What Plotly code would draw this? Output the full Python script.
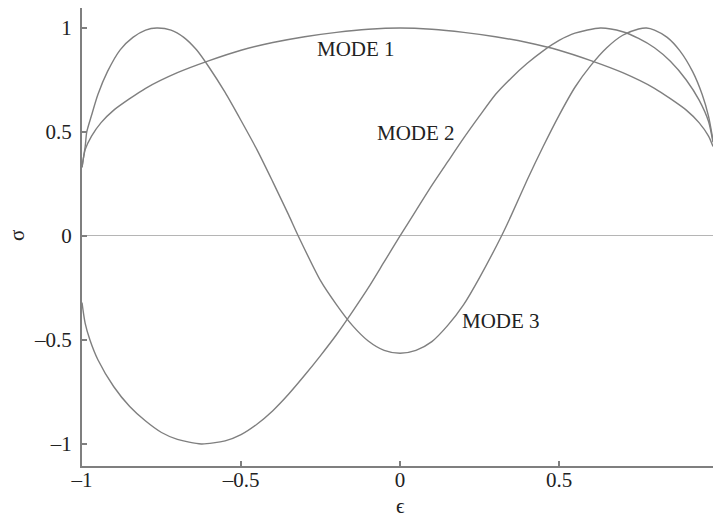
import plotly.graph_objects as go

# values
mode1_x = [-1.0, -0.99, -0.97, -0.94, -0.9, -0.85, -0.8, -0.7, -0.6, -0.5, -0.4, -0.3, -0.2, -0.1, 0.0,
           0.1, 0.2, 0.3, 0.4, 0.5, 0.6, 0.7, 0.8, 0.85, 0.9, 0.94, 0.97, 0.984]
mode1_y = [0.33, 0.415, 0.48, 0.545, 0.605, 0.66, 0.71, 0.785, 0.843, 0.893, 0.93, 0.958, 0.979, 0.994, 1.0,
           0.994, 0.979, 0.958, 0.93, 0.893, 0.843, 0.785, 0.71, 0.66, 0.605, 0.545, 0.48, 0.43]

mode2_x = [-1.0, -0.99, -0.975, -0.95, -0.9, -0.85, -0.8, -0.75, -0.7, -0.625, -0.55, -0.5, -0.45,
           -0.4, -0.35, -0.3, -0.25, -0.2, -0.15, -0.1, -0.05, 0.0, 0.05, 0.1, 0.15, 0.2, 0.25,
           0.3, 0.35, 0.4, 0.45, 0.5, 0.55, 0.63, 0.7, 0.75, 0.8, 0.85, 0.9, 0.94, 0.97, 0.984]
mode2_y = [-0.32, -0.42, -0.5, -0.595, -0.725, -0.82, -0.89, -0.945, -0.978, -1.0, -0.985, -0.955, -0.905,
           -0.84, -0.76, -0.67, -0.575, -0.475, -0.365, -0.25, -0.125, 0.0, 0.122, 0.243, 0.357, 0.47, 0.577,
           0.68, 0.76, 0.83, 0.89, 0.94, 0.975, 1.0, 0.982, 0.95, 0.905, 0.84, 0.75, 0.654, 0.55, 0.45]

mode3_x = [-1.0, -0.99, -0.985, -0.97, -0.95, -0.92, -0.88, -0.84, -0.8, -0.765, -0.72, -0.68, -0.64,
           -0.6, -0.55, -0.5, -0.45, -0.4, -0.35, -0.32, -0.25, -0.2, -0.15, -0.1, -0.05, 0.0,
           0.05, 0.1, 0.15, 0.2, 0.25, 0.319, 0.35, 0.4, 0.45, 0.5, 0.55, 0.6, 0.65, 0.7, 0.75,
           0.775, 0.8, 0.84, 0.88, 0.92, 0.95, 0.97, 0.984]
mode3_y = [0.33, 0.43, 0.5, 0.58, 0.68, 0.79, 0.895, 0.955, 0.99, 1.0, 0.99, 0.955, 0.895,
           0.81, 0.69, 0.555, 0.415, 0.26, 0.1, 0.0, -0.215, -0.33, -0.43, -0.505, -0.55, -0.564,
           -0.55, -0.508, -0.43, -0.33, -0.2, 0.0, 0.1, 0.27, 0.43, 0.58, 0.715, 0.82, 0.905, 0.965, 0.995,
           1.0, 0.99, 0.955, 0.89, 0.79, 0.68, 0.575, 0.46]

tick_vals = [-1, -0.5, 0, 0.5, 1]
tick_text = ['\u20131', '\u20130.5', '0', '0.5', '1']

line_col = '#7f7f7f'
font = dict(family='Liberation Serif, Times New Roman, serif', size=21, color='#222222')

fig = go.Figure()
for xs, ys in [(mode1_x, mode1_y), (mode2_x, mode2_y), (mode3_x, mode3_y)]:
    fig.add_trace(go.Scatter(x=xs, y=ys, mode='lines',
                             line=dict(color=line_col, width=1.4, shape='spline', smoothing=0.7),
                             hoverinfo='skip', showlegend=False))

# curve labels
for txt, lx, ly in [('MODE 1', -0.137, 0.899), ('MODE 2', 0.05, 0.495), ('MODE 3', 0.317, -0.41)]:
    fig.add_annotation(x=lx, y=ly, text=txt, showarrow=False, font=font)

# axis titles
fig.add_annotation(text='\u03f5', x=0, xref='x', y=0, yref='paper', yanchor='middle',
                   yshift=-40, showarrow=False, font=font)
fig.add_annotation(text='\u03c3', x=0, xref='paper', xanchor='center', y=0, yref='y',
                   xshift=-65, textangle=-90, showarrow=False, font=font)

fig.update_xaxes(range=[-1, 0.984], tickvals=tick_vals[:4], ticktext=tick_text[:4],
                 showgrid=False, zeroline=False, showline=True, linecolor=line_col, linewidth=2,
                 ticks='inside', ticklen=5, tickwidth=1.5, tickcolor=line_col,
                 tickfont=font, ticklabelstandoff=-6)
fig.update_yaxes(range=[-1.106, 1.096], tickvals=tick_vals, ticktext=tick_text,
                 showgrid=False, zeroline=True, zerolinecolor='#b5b5b5', zerolinewidth=1,
                 showline=True, linecolor=line_col, linewidth=2,
                 ticks='inside', ticklen=5, tickwidth=1.5, tickcolor=line_col,
                 tickfont=font, ticklabelstandoff=4)
# the page body adds an 8px margin and only 705px of width stay visible
fig.update_layout(width=705, height=509, margin=dict(l=74, r=0, t=0, b=51),
                  plot_bgcolor='white', paper_bgcolor='white', font=font)

fig.write_html("out.html")
